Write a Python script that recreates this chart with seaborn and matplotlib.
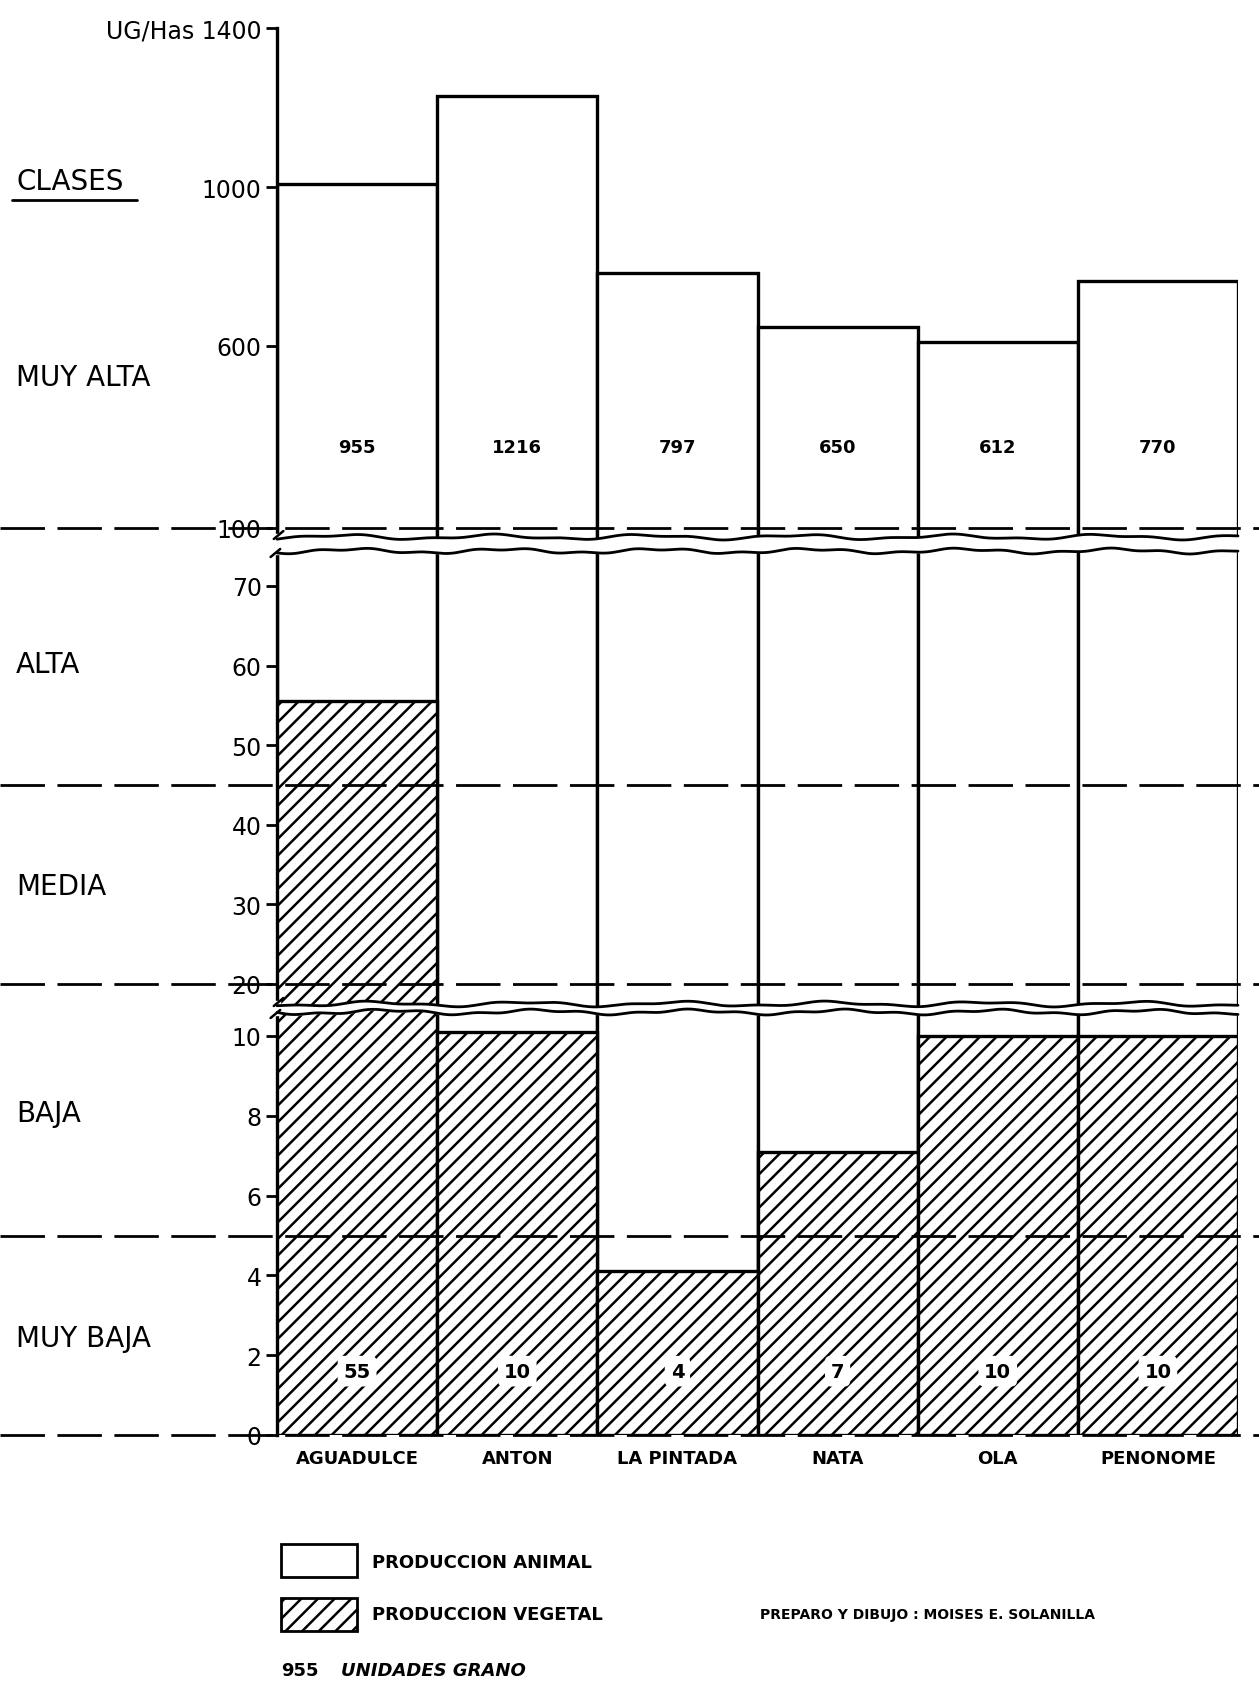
import numpy as np
import seaborn as sns
import matplotlib.pyplot as plt
from matplotlib import transforms
from matplotlib.patches import Rectangle

regions = ["AGUADULCE", "ANTON", "LA PINTADA", "NATA", "OLA", "PENONOME"]
animal_top = [1008, 1229, 784, 648, 609, 763]
animal_labels = ["955", "1216", "797", "650", "612", "770"]
vegetal = [55.5, 10.1, 4.1, 7.1, 10.0, 10.0]
vegetal_labels = ["55", "10", "4", "7", "10", "10"]
yticks = [0, 2, 4, 6, 8, 10, 20, 30, 40, 50, 60, 70, 100, 600, 1000, 1400]
ytick_labels = ["0", "2", "4", "6", "8", "10", "20", "30", "40", "50", "60", "70",
                "100", "600", "1000", "UG/Has 1400"]
class_limits = [0, 5, 20, 45, 100]
class_names = ["CLASES", "MUY ALTA", "ALTA", "MEDIA", "BAJA", "MUY BAJA"]
class_label_y = [182, 378, 665, 887, 1114, 1339]

# broken axis drawn as one piecewise linear scale (value -> pixels above the 0 line)
knot_val = [-100, 0, 10, 10.6, 17.5, 20, 70, 74.4, 78, 100, 600, 1000, 1400, 3000]
knot_px = [-3990, 0, 399, 423, 431, 451, 849, 884, 899, 907, 1089, 1248, 1407, 2043]


def fwd(v):
    return np.interp(v, knot_val, knot_px)


def inv(p):
    return np.interp(p, knot_px, knot_val)


W, H = 1259, 1683
sns.set_style("white")
plt.rcParams['font.family'] = ['DejaVu Sans']
plt.rcParams['hatch.linewidth'] = 1.8
plt.rcParams['text.color'] = 'black'
plt.rcParams['xtick.color'] = 'black'
plt.rcParams['ytick.color'] = 'black'

fig = plt.figure(figsize=(W / 100, H / 100), dpi=100)
ax = fig.add_axes([277 / W, (H - 1436) / H, (1238 - 277) / W, 1407 / H])

sns.barplot(x=regions, y=animal_top, color="white", saturation=1, edgecolor="black",
            linewidth=2.4, width=1.0, errorbar=None, ax=ax, zorder=2)
sns.barplot(x=regions, y=vegetal, color="white", saturation=1, edgecolor="black",
            linewidth=2.4, width=1.0, errorbar=None, ax=ax, zorder=3)
for p in ax.patches[len(regions):]:
    p.set_hatch("//")

ax.set_yscale("function", functions=(fwd, inv))
ax.set_ylim(0, 1400)
ax.set_xlim(-0.5, 5.5)
ax.set_yticks(yticks, ytick_labels)
ax.tick_params(axis="y", length=8, width=2, direction="out", labelsize=17, pad=3,
               left=True, colors="black")
ax.tick_params(axis="x", length=0, pad=10, colors="black")
for lab in ax.get_xticklabels():
    lab.set_fontweight("bold")
    lab.set_fontsize(13)
ax.set_xlabel("")
sns.despine(ax=ax, top=True, right=True, bottom=True)
ax.spines["left"].set_linewidth(2.4)
ax.spines["left"].set_color("black")

# break bands
x = np.linspace(-0.5, 5.5, 500)
for lo, hi, ph in [(423, 431, 0.4), (884, 898, 1.7)]:
    w1 = 2.0 * np.sin(2 * np.pi * x / 0.95 + ph) + 1.0 * np.sin(2 * np.pi * x / 0.33)
    w2 = 2.0 * np.sin(2 * np.pi * x / 0.95 + ph + 0.5) + 1.0 * np.sin(2 * np.pi * x / 0.41 + 1)
    ylo = inv(lo + w1)
    yhi = inv(hi + w2)
    ax.fill_between(x, ylo, yhi, color="white", zorder=5, clip_on=False)
    ax.plot(x, ylo, color="black", lw=2, zorder=6, clip_on=False)
    ax.plot(x, yhi, color="black", lw=2, zorder=6, clip_on=False)
    ax.fill_between([-0.52, -0.48], inv(lo - 3), inv(hi + 3), color="white", zorder=5, clip_on=False)
    ax.plot([-0.54, -0.48], [inv(lo - 6), inv(lo + 2)], color="black", lw=1.8, zorder=6, clip_on=False)
    ax.plot([-0.52, -0.46], [inv(hi - 2), inv(hi + 6)], color="black", lw=1.8, zorder=6, clip_on=False)

# class limits, dashed across the whole sheet
tr = transforms.blended_transform_factory(fig.transFigure, ax.transData)
for v in class_limits:
    ax.plot([0, 1], [v, v], transform=tr, color="black", lw=2, ls=(0, (16, 4.5)),
            zorder=7, clip_on=False)

# value labels
for i, (a, g) in enumerate(zip(animal_labels, vegetal_labels)):
    ax.text(i, 322, a, ha="center", va="center", fontsize=13, fontweight="bold", zorder=8)
    ax.text(i, 1.6, g, ha="center", va="center", fontsize=14, fontweight="bold", zorder=8,
            bbox=dict(boxstyle="round,pad=0.3", fc="white", ec="none"))

# class names on the left
for name, yy in zip(class_names, class_label_y):
    fig.text(16 / W, 1 - yy / H, name, ha="left", va="center", fontsize=20)
fig.add_artist(plt.Line2D([12 / W, 137 / W], [1 - 201 / H, 1 - 201 / H],
                          transform=fig.transFigure, color="black", lw=2))

# legend
fig.add_artist(Rectangle((281 / W, 1 - 1578 / H), 76 / W, 33 / H, transform=fig.transFigure,
                         fc="white", ec="black", lw=2))
fig.add_artist(Rectangle((281 / W, 1 - 1632 / H), 76 / W, 33 / H, transform=fig.transFigure,
                         fc="white", ec="black", lw=2, hatch="//"))
fig.text(372 / W, 1 - 1563 / H, "PRODUCCION ANIMAL", ha="left", va="center",
         fontsize=13, fontweight="bold")
fig.text(372 / W, 1 - 1615 / H, "PRODUCCION VEGETAL", ha="left", va="center",
         fontsize=13, fontweight="bold")
fig.text(281 / W, 1 - 1671 / H, "955", ha="left", va="center", fontsize=13, fontweight="bold")
fig.text(341 / W, 1 - 1671 / H, "UNIDADES GRANO", ha="left", va="center",
         fontsize=13, fontweight="bold", style="italic")
fig.text(760 / W, 1 - 1615 / H, "PREPARO Y DIBUJO : MOISES E. SOLANILLA", ha="left",
         va="center", fontsize=10, fontweight="bold")

fig.savefig("out.png", dpi=100, facecolor="white")
